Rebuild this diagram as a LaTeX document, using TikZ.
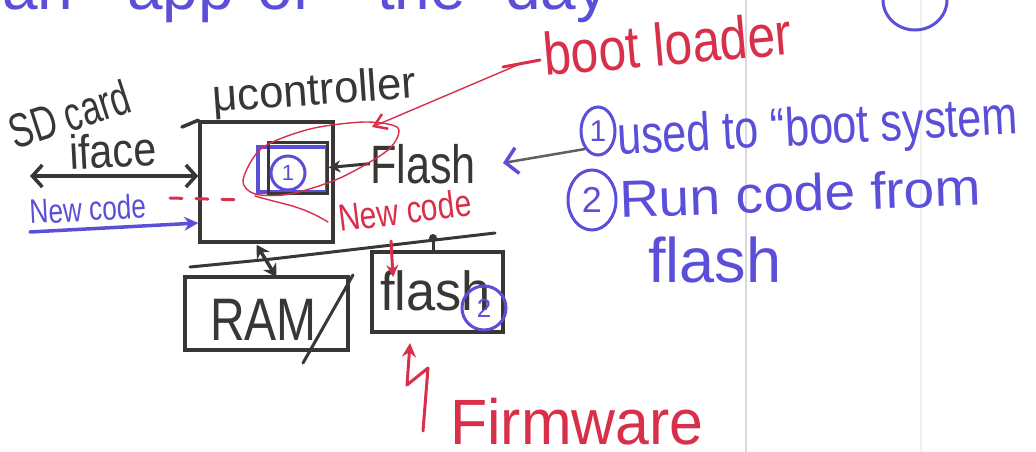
\documentclass[tikz,border=0pt]{standalone}
\usepackage{fontspec}
\setmainfont{Liberation Sans}
\usetikzlibrary{arrows.meta,shapes.geometric,calc}
\definecolor{ink}{HTML}{3A3636}
\definecolor{blueink}{HTML}{5B4FD9}
\definecolor{redink}{HTML}{D8304A}
\newcommand\fsz[1]{\fontsize{#1}{#1}\selectfont}
\newcommand\sq[2]{\scalebox{#1}[1]{#2}}
\begin{document}
\begin{tikzpicture}[x=1pt,y=-1pt,
  lbl/.style={inner sep=0pt,anchor=base west},
  boxst/.style={draw=ink,line width=3.5pt,inner sep=0pt,rectangle},
  bk/.style={draw=ink,line width=3.5pt,line cap=round,line join=round},
  bl/.style={draw=blueink,line width=3.5pt,line cap=round,line join=round},
  rd/.style={draw=redink,line width=3pt,line cap=round,line join=round},
  rdthin/.style={draw=redink,line width=1.4pt,line cap=round},
  circ/.style={draw=blueink,line width=3pt,ellipse,inner sep=0pt,text=blueink},
]
\useasboundingbox (0,0) rectangle (1036,452);
\clip (0,0) rectangle (1036,452);
\fill[white] (0,0) rectangle (1036,452);
% page ruling
\draw[gray!30,line width=1.5pt] (746,0) -- (746,452);
\draw[gray!12,line width=1.2pt] (921,0) -- (921,452);

% heading, cut off at the top edge
\foreach \w/\x in {an/2,app/127,of/257,the/377,day/505}
  \node[lbl,text=blueink,font=\fsz{64}] (top\w) at (\x,10) {\w};
\draw[blueink,line width=3pt] (915,0) ellipse [x radius=32,y radius=30];

% boxes
\node[boxst,minimum width=133pt,minimum height=120pt] (mc) at (266.5,182) {};
\draw[bk] (182,127) -- (mc.north west);
\node[draw=blueink,line width=3.5pt,minimum width=69pt,minimum height=45pt,inner sep=0pt] (fib) at (292.5,169.5) {};
\node[draw=ink,line width=3pt,minimum width=59pt,minimum height=51pt,inner sep=0pt] (fi) at (297.5,167.5) {};
\node[circ,minimum width=34pt,minimum height=34pt,font=\fsz{22}] (c0) at (288,173) {1};
\node[boxst,minimum width=163pt,minimum height=73pt] (ram) at (266.5,313.5) {};
\node[boxst,minimum width=131pt,minimum height=80pt] (fl2) at (437.5,292) {};
\draw[bk,line width=3pt] (353,275) -- (303,363);

% labels
\node[lbl,text=ink,font=\fsz{48},rotate=18] (sd) at (15,150) {\sq{0.72}{SD card}};
\node[lbl,text=ink,font=\fsz{48},rotate=3] (if) at (70,170) {\sq{0.86}{iface}};
\node[lbl,text=blueink,font=\fsz{34},rotate=3] (ncb) at (30,224) {\sq{0.77}{New code}};
\node[lbl,text=ink,font=\fsz{45},rotate=4] (muc) at (213,112) {\sq{0.97}{μcontroller}};
\node[lbl,text=ink,font=\fsz{54}] (fl1) at (370,183) {\sq{0.8}{Flash}};
\node[lbl,text=redink,font=\fsz{60},rotate=5] (boot) at (545,76) {\sq{0.83}{boot loader}};
\node[lbl,text=redink,font=\fsz{38},rotate=7] (ncr) at (340,232) {\sq{0.79}{New code}};
\node[lbl,text=ink,font=\fsz{60}] (ramt) at (210,340) {\sq{0.8}{RAM}};
\node[lbl,text=ink,font=\fsz{55}] (fl2t) at (380,310) {\sq{0.95}{flash}};
\node[lbl,text=redink,font=\fsz{64}] (fw) at (450,444) {\sq{0.95}{Firmware}};
\node[lbl,text=blueink,font=\fsz{54},rotate=3] (l1) at (618,155) {\sq{0.8}{used to “boot system}};
\node[lbl,text=blueink,font=\fsz{52},rotate=2] (l2) at (620,218) {\sq{1.06}{Run code from}};
\node[lbl,text=blueink,font=\fsz{63}] (l3) at (648,282) {flash};
\node[circ,minimum width=34pt,minimum height=48pt,font=\fsz{30}] (c1) at (598,131) {1};
\node[circ,minimum width=48pt,minimum height=60pt,font=\fsz{36}] (c2) at (592,200) {2};
\node[circ,minimum width=44pt,minimum height=44pt,font=\fsz{26}] (c3) at (484,308) {2};

% connectors
\coordinate (sdL) at (30,176);
\draw[bk,{Straight Barb[length=10pt,width=22pt]}-{Straight Barb[length=10pt,width=22pt]}] (sdL) -- (sdL -| mc.west);
\coordinate (ncL) at (30,232);
\draw[bl,-{Stealth[length=14pt,width=14pt]}] (ncL) -- ($(ncL -| mc.west)+(0,-9)$);
\coordinate (rdL) at (170,198);
\coordinate (rdR) at (244,200);
\draw[rd,dash pattern=on 12pt off 14pt] (rdL) -- (rdR);
\draw[draw=ink,line width=3pt,{Stealth[length=12pt,width=12pt]}-] (fi.east) -- (fl1.west);

% boot loader loop
\draw[rdthin] plot[smooth cycle] coordinates {(243,180) (262,148) (310,129) (365,122) (398,128) (388,150) (340,178) (290,194) (255,194)};
\draw[rdthin] (255,196) .. controls (285,205) and (300,205) .. (328,222);
\coordinate (bootD) at (520,64);
\coordinate (ellTop) at (372,127);
\draw[rd] (503,67) -- (540,60);
\draw[rdthin,-{Straight Barb[length=12pt,width=16pt,line width=2.5pt]}] (bootD) -- (ellTop);

% note 1 points at Flash
\coordinate (arT) at (503,163);
\draw[draw=ink!80,line width=2.5pt,-{Straight Barb[color=blueink,length=12pt,width=26pt,line width=3.5pt]}] (c1.south west) -- (arT);

% bus
\draw[bk,line width=3.5pt,{Stealth[length=13pt,width=15pt]}-{Stealth[length=13pt,width=15pt]}] ($(mc.south)+(-10,1)$) -- ($(ram.north)+(10,2)$);
\coordinate (busL) at (190,267);
\coordinate (busM) at (272,259);
\coordinate (busR) at (495,233);
\draw[bk,line width=3pt] (busL) -- (busM) -- (busR);
\coordinate (tap) at (433,238);
\draw[bk,line width=3pt] (tap) -- (tap |- fl2.north);
\fill[ink] (tap) circle (4);

% new code into flash 2
\coordinate (rnA) at (391,241);
\coordinate (rnB) at (393,277);
\draw[rd,-{Stealth[length=12pt,width=12pt]}] (rnA) -- (rnB);

% firmware zigzag
\coordinate (fwS) at (423,431);
\coordinate (fwT) at (410,343);
\draw[rd,-{Stealth[length=14pt,width=14pt]}] (fwS) -- (428,368) -- (407,385) -- (fwT);
\end{tikzpicture}
\end{document}
